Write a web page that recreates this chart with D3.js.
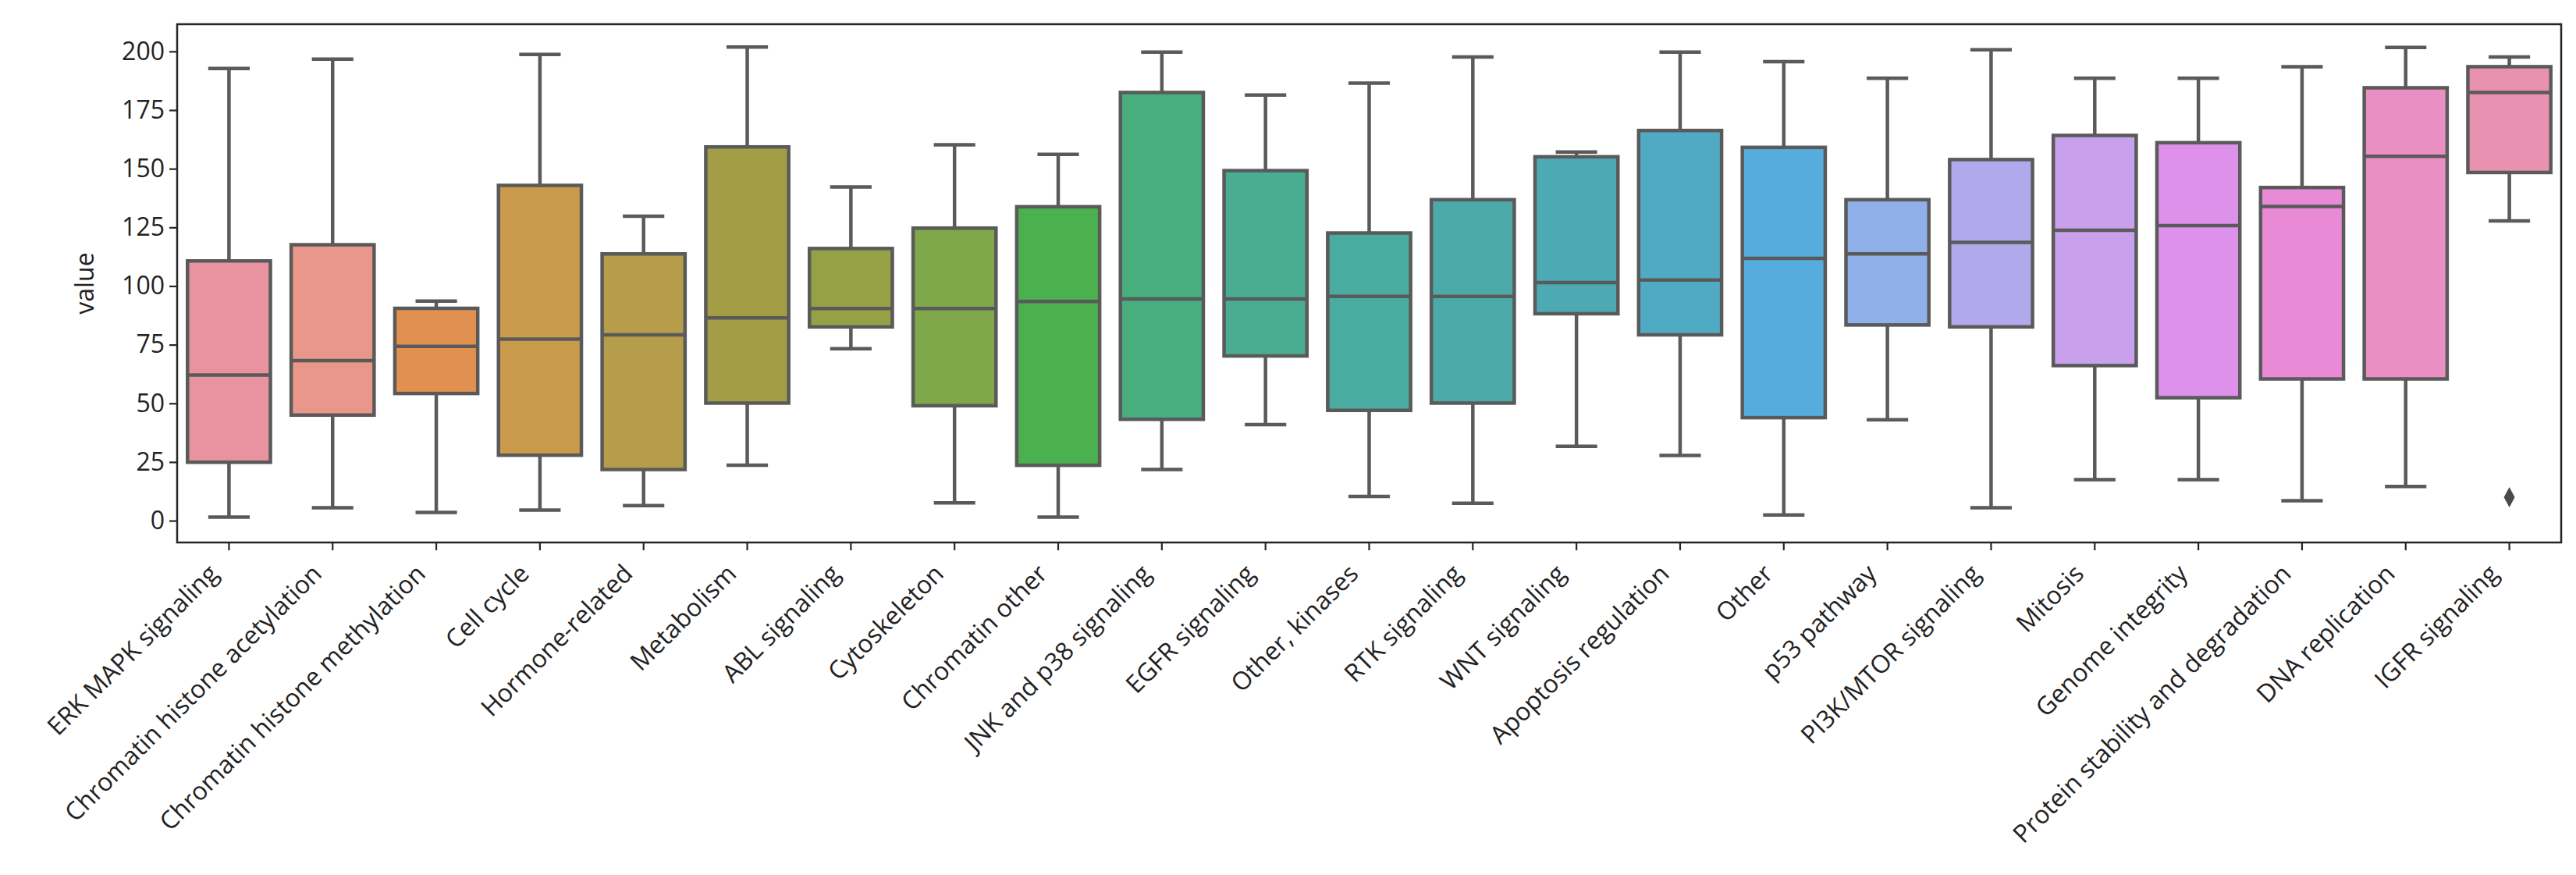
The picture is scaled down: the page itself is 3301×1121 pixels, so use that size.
<!DOCTYPE html>
<html>
<head>
<meta charset="utf-8">
<script src="https://cdn.jsdelivr.net/npm/d3@7"></script>
<style>
  body { margin: 0; background: #fff; }
  text { font-family: "Open Sans", "DejaVu Sans", sans-serif; fill: #222; }
</style>
</head>
<body>
<script>
// categories, left to right
var categories = ["ERK MAPK signaling", "Chromatin histone acetylation", "Chromatin histone methylation",
  "Cell cycle", "Hormone-related", "Metabolism", "ABL signaling", "Cytoskeleton", "Chromatin other",
  "JNK and p38 signaling", "EGFR signaling", "Other, kinases", "RTK signaling", "WNT signaling",
  "Apoptosis regulation", "Other", "p53 pathway", "PI3K/MTOR signaling", "Mitosis", "Genome integrity",
  "Protein stability and degradation", "DNA replication", "IGFR signaling"];

// box stats
var whiskLo = [1.5, 5.5, 3.5, 4.5, 6.4, 23.6, 73.3, 7.6, 1.5, 21.8, 40.9, 10.3, 7.4, 31.7, 27.8, 2.4, 43.0, 5.5, 17.5, 17.5, 8.5, 14.6, 127.8];
var q1      = [24.9, 45.0, 54.2, 27.9, 21.8, 50.1, 82.6, 49.0, 23.6, 43.2, 70.2, 47.0, 50.1, 88.2, 79.2, 43.9, 83.4, 82.6, 66.1, 52.4, 60.4, 60.4, 148.4];
var median  = [62.1, 68.2, 74.3, 77.4, 79.2, 86.4, 90.4, 90.4, 93.4, 94.5, 94.5, 95.6, 95.6, 101.5, 102.6, 111.8, 113.7, 118.6, 123.8, 125.8, 133.9, 155.3, 182.5];
var q3      = [110.7, 117.6, 90.5, 142.9, 113.7, 159.3, 116.0, 124.7, 133.8, 182.5, 149.2, 122.6, 136.8, 155.1, 166.3, 159.1, 136.8, 153.9, 164.2, 161.1, 142.0, 184.5, 193.5];
var whiskHi = [192.7, 196.7, 93.6, 198.7, 129.8, 201.9, 142.2, 160.2, 156.1, 199.7, 181.4, 186.5, 197.6, 157.1, 199.7, 195.6, 188.6, 200.7, 188.6, 188.6, 193.5, 201.7, 197.6];
var outliers = [["IGFR signaling", 10.0]];

var yTicks = [0, 25, 50, 75, 100, 125, 150, 175, 200];

// husl palette, desaturated like seaborn
var colors = ["#e8939f", "#e8978a", "#e09150", "#c99a4b", "#b69d4a", "#a39e46", "#96a146", "#7ea849",
  "#4bb04e", "#48ae7e", "#4aad93", "#4aaba0", "#4baaa8", "#4da9b4", "#50aac4", "#56acdc", "#8fb0e9",
  "#b0a9eb", "#c8a0eb", "#dd91ea", "#e98ad6", "#ea8fc4", "#e991b1"];

var W = 3301, H = 1121;
var mLeft = 227, mRight = 3282, mTop = 31, mBottom = 695;
var lineCol = "#5a5a5a", lw = 4.5;

var svg = d3.select("body").append("svg")
  .attr("width", W).attr("height", H);

var x = d3.scaleBand().domain(categories).range([mLeft, mRight]).padding(0);
var y = d3.scaleLinear().domain([-9.3, 211.6]).range([mBottom, mTop]);
var color = d3.scaleOrdinal().domain(categories).range(colors);

var bw = x.bandwidth() * 0.8;
var rows = categories.map(function(c, i) {
  return {cat: c, lo: whiskLo[i], q1: q1[i], med: median[i], q3: q3[i], hi: whiskHi[i]};
});

var g = svg.append("g");
var box = g.selectAll("g.box").data(rows).enter().append("g")
  .attr("transform", function(d) { return "translate(" + (x(d.cat) + x.bandwidth() / 2) + ",0)"; });

// whiskers
box.append("line").attr("x1", 0).attr("x2", 0)
  .attr("y1", function(d) { return y(d.q3); }).attr("y2", function(d) { return y(d.hi); })
  .attr("stroke", lineCol).attr("stroke-width", lw);
box.append("line").attr("x1", 0).attr("x2", 0)
  .attr("y1", function(d) { return y(d.q1); }).attr("y2", function(d) { return y(d.lo); })
  .attr("stroke", lineCol).attr("stroke-width", lw);
// caps
box.append("line").attr("x1", -bw / 4).attr("x2", bw / 4)
  .attr("y1", function(d) { return y(d.hi); }).attr("y2", function(d) { return y(d.hi); })
  .attr("stroke", lineCol).attr("stroke-width", lw);
box.append("line").attr("x1", -bw / 4).attr("x2", bw / 4)
  .attr("y1", function(d) { return y(d.lo); }).attr("y2", function(d) { return y(d.lo); })
  .attr("stroke", lineCol).attr("stroke-width", lw);
// boxes
box.append("rect").attr("x", -bw / 2).attr("width", bw)
  .attr("y", function(d) { return y(d.q3); })
  .attr("height", function(d) { return y(d.q1) - y(d.q3); })
  .attr("fill", function(d) { return color(d.cat); })
  .attr("stroke", lineCol).attr("stroke-width", lw);
// medians
box.append("line").attr("x1", -bw / 2).attr("x2", bw / 2)
  .attr("y1", function(d) { return y(d.med); }).attr("y2", function(d) { return y(d.med); })
  .attr("stroke", lineCol).attr("stroke-width", lw);

// outlier (thin diamond)
g.selectAll("path.flier").data(outliers).enter().append("path")
  .attr("d", "M0,-13 L7,0 L0,13 L-7,0 Z")
  .attr("transform", function(d) { return "translate(" + (x(d[0]) + x.bandwidth() / 2) + "," + y(d[1]) + ")"; })
  .attr("fill", "#4a4a4a");

// axes
var yAxis = svg.append("g").attr("transform", "translate(" + mLeft + ",0)")
  .call(d3.axisLeft(y).tickValues(yTicks).tickSize(10).tickPadding(6));
var xAxis = svg.append("g").attr("transform", "translate(0," + mBottom + ")")
  .call(d3.axisBottom(x).tickSize(10).tickPadding(6));

yAxis.select(".domain").remove();
xAxis.select(".domain").remove();
svg.selectAll(".tick line").attr("stroke", "#262626").attr("stroke-width", 2.2);
yAxis.selectAll("text").style("font-size", "32px").attr("fill", "#222");

xAxis.selectAll("text")
  .style("font-size", "32px").attr("fill", "#222")
  .attr("text-anchor", "end")
  .attr("dy", null).attr("y", null)
  .attr("transform", "translate(-12,42) rotate(-45)");

// frame
svg.append("rect").attr("x", mLeft).attr("y", mTop)
  .attr("width", mRight - mLeft).attr("height", mBottom - mTop)
  .attr("fill", "none").attr("stroke", "#262626").attr("stroke-width", 2.5);

svg.append("text")
  .attr("transform", "translate(120," + ((mTop + mBottom) / 2) + ") rotate(-90)")
  .attr("text-anchor", "middle")
  .style("font-size", "32px")
  .text("value");
</script>
</body>
</html>
